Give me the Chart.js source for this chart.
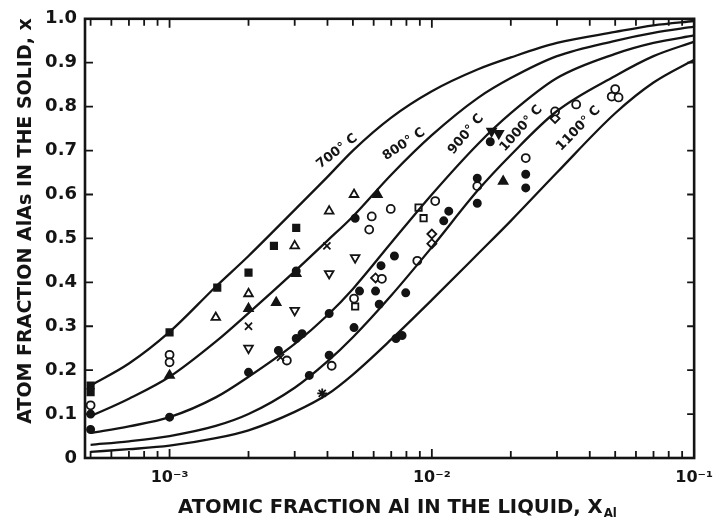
<!DOCTYPE html>
<html>
<head>
<meta charset="utf-8">
<script src="https://cdn.jsdelivr.net/npm/chart.js@4.4.1/dist/chart.umd.min.js"></script>
<style>
  html, body { margin: 0; padding: 0; background: #fff; }
  #wrap { width: 723px; height: 532px; }
</style>
</head>
<body>
<div id="wrap"><canvas id="chart"></canvas></div>
<script>
// x grid (atomic fraction Al in the liquid) used by all fitted curves
const liquidX = [5e-4, 7e-4, 1e-3, 1.5e-3, 2e-3, 3e-3, 4e-3, 5e-3, 7e-3, 1e-2, 1.5e-2, 2e-2, 3e-2, 5e-2, 7e-2, 1e-1];

// solid fraction x along each isotherm
const curve700  = [0.165, 0.215, 0.287, 0.39, 0.46, 0.565, 0.64, 0.70, 0.775, 0.835, 0.885, 0.912, 0.945, 0.97, 0.985, 0.995];
const curve800  = [0.095, 0.135, 0.185, 0.265, 0.33, 0.425, 0.495, 0.55, 0.645, 0.735, 0.82, 0.865, 0.915, 0.95, 0.968, 0.982];
const curve900  = [0.057, 0.072, 0.093, 0.138, 0.185, 0.26, 0.325, 0.385, 0.49, 0.60, 0.715, 0.785, 0.865, 0.92, 0.945, 0.962];
const curve1000 = [0.030, 0.038, 0.050, 0.073, 0.10, 0.16, 0.22, 0.275, 0.37, 0.48, 0.61, 0.69, 0.79, 0.87, 0.915, 0.948];
const curve1100 = [0.014, 0.020, 0.028, 0.045, 0.063, 0.105, 0.145, 0.19, 0.27, 0.36, 0.465, 0.54, 0.65, 0.785, 0.855, 0.907];

const curveNames = ['700° C', '800° C', '900° C', '1000° C', '1100° C'];

// measured points [x liquid, x solid]
const filledSquares = [[5e-4,0.165],[5e-4,0.15],[1e-3,0.286],[1.52e-3,0.388],[2e-3,0.422],[2.5e-3,0.483],[3.04e-3,0.524]];
const openTriangles = [[1.5e-3,0.32],[2e-3,0.374],[3e-3,0.483],[4.06e-3,0.562],[5.05e-3,0.6]];
const filledTriangles = [[1e-3,0.188],[2e-3,0.34],[2.55e-3,0.354],[3.04e-3,0.42],[6.2e-3,0.6],[1.87e-2,0.63]];
const openInvTriangles = [[2e-3,0.25],[3e-3,0.336],[4.06e-3,0.42],[5.1e-3,0.456]];
const filledInvTriangles = [[1.69e-2,0.744],[1.8e-2,0.739]];
const crosses = [[2e-3,0.30],[3.98e-3,0.483],[2.65e-3,0.229]];
const openCircles = [[5e-4,0.12],[1e-3,0.235],[1e-3,0.218],[2.8e-3,0.222],[4.15e-3,0.21],[5.05e-3,0.363],
  [5.9e-3,0.55],[6.97e-3,0.567],[5.77e-3,0.52],[6.45e-3,0.408],[8.8e-3,0.449],[1.03e-2,0.585],[1.49e-2,0.619],
  [2.28e-2,0.683],[2.95e-2,0.789],[3.55e-2,0.805],[4.85e-2,0.823],[5.15e-2,0.821],[5e-2,0.84]];
const filledCircles = [[5e-4,0.1],[5e-4,0.065],[1e-3,0.093],[2e-3,0.195],[2.6e-3,0.245],[3.04e-3,0.272],[3.2e-3,0.283],
  [3.41e-3,0.188],[3.04e-3,0.426],[4.06e-3,0.329],[4.06e-3,0.234],[5.05e-3,0.297],[5.1e-3,0.546],[5.3e-3,0.38],
  [6.3e-3,0.35],[6.4e-3,0.438],[6.1e-3,0.38],[7.2e-3,0.46],[7.95e-3,0.376],[7.3e-3,0.272],[7.7e-3,0.279],
  [1.11e-2,0.54],[1.16e-2,0.562],[1.49e-2,0.637],[1.49e-2,0.58],[1.67e-2,0.72],[2.28e-2,0.646],[2.28e-2,0.615]];
const openSquares = [[8.9e-3,0.57],[9.3e-3,0.546],[5.1e-3,0.345]];
const openDiamonds = [[1e-2,0.51],[1e-2,0.488],[6.1e-3,0.41],[2.95e-2,0.773]];
const stars = [[3.82e-3,0.147]];

// axis ticks
const xMajorTicks = [1e-3, 1e-2, 1e-1];
const xTickLabels = ['10⁻³', '10⁻²', '10⁻¹'];
const xMinorTicks = [5e-4,6e-4,7e-4,8e-4,9e-4, 2e-3,3e-3,4e-3,5e-3,6e-3,7e-3,8e-3,9e-3, 2e-2,3e-2,4e-2,5e-2,6e-2,7e-2,8e-2,9e-2];
const yTicks = [0, 0.1, 0.2, 0.3, 0.4, 0.5, 0.6, 0.7, 0.8, 0.9, 1.0];

const INK = '#141414';
const FONT = "'DejaVu Sans', sans-serif";

function toXY(list) { return list.map(p => ({x: p[0], y: p[1]})); }

function curveSet(values) {
    return {
        data: liquidX.map((x, i) => ({x: x, y: values[i]})),
        showLine: true,
        borderColor: INK,
        borderWidth: 2.3,
        pointRadius: 0,
        cubicInterpolationMode: 'monotone',
        fill: false
    };
}

function markerSet(list, style, filled, radius, rotation) {
    return {
        data: toXY(list),
        showLine: false,
        pointStyle: style,
        pointRadius: radius,
        pointRotation: rotation || 0,
        pointBorderWidth: 1.8,
        pointBorderColor: INK,
        pointBackgroundColor: filled ? INK : '#fff'
    };
}

// where the isotherm names sit (data coords) and their tilt
const labelPlaces = [
    {x: 4.35e-3, y: 0.698, angle: -38},
    {x: 7.83e-3, y: 0.714, angle: -34},
    {x: 1.35e-2, y: 0.737, angle: -50},
    {x: 2.19e-2, y: 0.75,  angle: -48},
    {x: 3.62e-2, y: 0.75,  angle: -46}
];

const framePlugin = {
    id: 'frame',
    afterDatasetsDraw(chart) {
        const {ctx, chartArea: a, scales: {x, y}} = chart;
        ctx.save();
        ctx.strokeStyle = INK;
        ctx.fillStyle = INK;

        // box
        ctx.lineWidth = 2.6;
        ctx.strokeRect(a.left, a.top, a.right - a.left, a.bottom - a.top);

        // inward ticks
        ctx.lineWidth = 1.8;
        ctx.beginPath();
        xMajorTicks.concat(xMinorTicks).forEach(v => {
            const px = x.getPixelForValue(v);
            const len = xMajorTicks.includes(v) ? 9 : 7;
            ctx.moveTo(px, a.bottom); ctx.lineTo(px, a.bottom - len);
            ctx.moveTo(px, a.top); ctx.lineTo(px, a.top + len);
        });
        yTicks.forEach(v => {
            const py = y.getPixelForValue(v);
            ctx.moveTo(a.left, py); ctx.lineTo(a.left + 8, py);
            ctx.moveTo(a.right, py); ctx.lineTo(a.right - 7, py);
        });
        ctx.stroke();

        // isotherm labels
        ctx.font = 'bold 13px ' + FONT;
        ctx.textAlign = 'center';
        ctx.textBaseline = 'middle';
        labelPlaces.forEach((p, i) => {
            ctx.save();
            ctx.translate(x.getPixelForValue(p.x), y.getPixelForValue(p.y));
            ctx.rotate(p.angle * Math.PI / 180);
            ctx.fillText(curveNames[i], 0, 0);
            ctx.restore();
        });

        // y title, fitted to the span of the original
        const yTitle = 'ATOM FRACTION AlAs IN THE SOLID, x';
        ctx.font = 'bold 20px ' + FONT;
        let s = 20 * 405 / ctx.measureText(yTitle).width;
        ctx.font = 'bold ' + s.toFixed(1) + 'px ' + FONT;
        ctx.save();
        ctx.translate(26, 221);
        ctx.rotate(-Math.PI / 2);
        ctx.fillText(yTitle, 0, 0);
        ctx.restore();

        // x title with subscript
        const xTitle = 'ATOMIC FRACTION Al IN THE LIQUID, X';
        ctx.font = 'bold 20px ' + FONT;
        s = 20 * 425 / ctx.measureText(xTitle).width;
        ctx.font = 'bold ' + s.toFixed(1) + 'px ' + FONT;
        ctx.textAlign = 'left';
        ctx.fillText(xTitle, 178, 508);
        const w = ctx.measureText(xTitle).width;
        ctx.font = 'bold ' + (s * 0.6).toFixed(1) + 'px ' + FONT;
        ctx.fillText('Al', 178 + w + 1, 514);
        ctx.restore();
    }
};

const ctx = document.getElementById('chart').getContext('2d');
const chart = new Chart(ctx, {
    type: 'scatter',
    data: {
        datasets: [
            curveSet(curve700), curveSet(curve800), curveSet(curve900), curveSet(curve1000), curveSet(curve1100),
            markerSet(filledSquares, 'rect', true, 4.5),
            markerSet(openTriangles, 'triangle', false, 5),
            markerSet(filledTriangles, 'triangle', true, 5),
            markerSet(openInvTriangles, 'triangle', false, 5, 180),
            markerSet(filledInvTriangles, 'triangle', true, 5, 180),
            markerSet(crosses, 'crossRot', false, 5),
            markerSet(openCircles, 'circle', false, 4),
            markerSet(filledCircles, 'circle', true, 3.6),
            markerSet(openSquares, 'rect', false, 4.5),
            markerSet(openDiamonds, 'rectRot', false, 4.5),
            markerSet(stars, 'star', false, 5)
        ]
    },
    options: {
        responsive: true,
        maintainAspectRatio: false,
        animation: false,
        layout: {
            padding: {left: 0, right: 25, top: 17, bottom: 0}
        },
        scales: {
            x: {
                type: 'logarithmic',
                min: 4.76e-4,
                max: 0.1,
                afterBuildTicks: axis => { axis.ticks = xMajorTicks.map(v => ({value: v})); },
                afterFit: axis => { axis.height = 74; },
                grid: { display: false, drawTicks: false },
                border: { display: false },
                ticks: {
                    autoSkip: false,
                    maxRotation: 0,
                    padding: 10,
                    color: INK,
                    font: { family: FONT, size: 16, weight: 'bold' },
                    callback: function(v) {
                        const i = xMajorTicks.findIndex(t => Math.abs(t - v) / t < 1e-6);
                        return i >= 0 ? xTickLabels[i] : '';
                    }
                }
            },
            y: {
                min: 0,
                max: 1,
                afterBuildTicks: axis => { axis.ticks = yTicks.map(v => ({value: v})); },
                afterFit: axis => { axis.width = 85; },
                grid: { display: false, drawTicks: false },
                border: { display: false },
                ticks: {
                    padding: 8,
                    color: INK,
                    font: { family: FONT, size: 18, weight: 'bold' },
                    callback: v => v === 0 ? '0' : v.toFixed(1)
                }
            }
        },
        plugins: {
            legend: { display: false },
            tooltip: { enabled: false }
        }
    },
    plugins: [framePlugin]
});
</script>
</body>
</html>
